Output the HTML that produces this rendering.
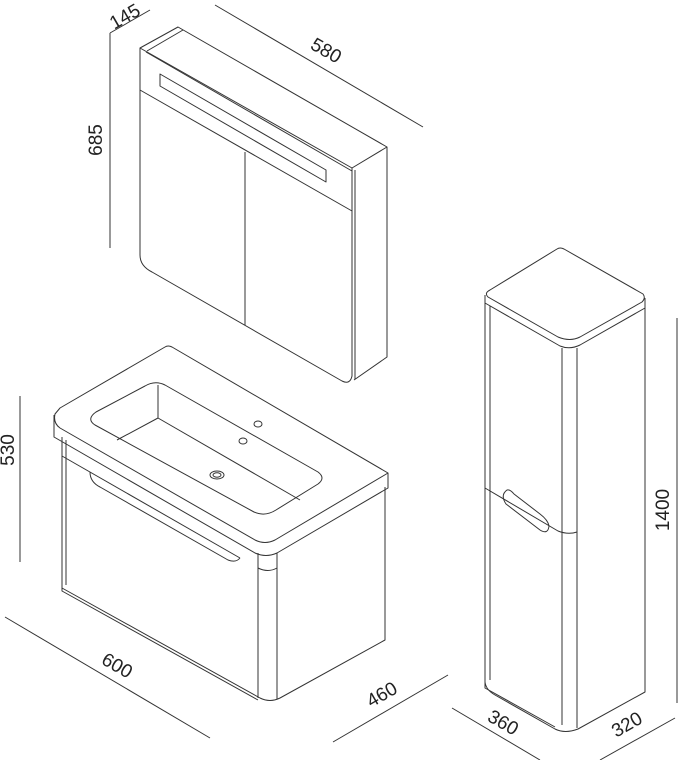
<!DOCTYPE html>
<html><head><style>
html,body{margin:0;padding:0;background:#fff;}
svg{display:block;}
text{font-family:"Liberation Sans",sans-serif;font-size:19px;fill:#222;}
</style></head><body>
<svg width="678" height="760" viewBox="0 0 678 760" xmlns="http://www.w3.org/2000/svg">
<g fill="none" stroke="#333" stroke-width="1" stroke-linejoin="round">
<path d="M140,48 L178,27 L387,147 L352,168 Z"/>
<path d="M147,51 L183,30"/>
<path d="M146,52 L352,171"/>
<path d="M140,48 L140,255 Q140,266 152,272 L342,381 Q350,385 352,376 L352,168"/>
<path d="M355,170 L355,379"/>
<path d="M387,147 L387,357 L354,380"/>
<path d="M160,74 L326,170 L326,182 L160,86 Z"/>
<path d="M140,90 L352,211"/>
<path d="M245,152 L245,325"/>
<path d="M110,33 L150,10"/>
<path d="M110,33 L110,248"/>
<path d="M215,5 L423,127"/>
<path d="M60,408 L165,347 Q168,345 172,347 L388,473 L275,540 Q265,545 255,540 L60,428 Q53,423 55,414 Z"/>
<path d="M54,415 L54,437 L255,553 Q266,558 277,553 L388,488 L388,473"/>
<path d="M145,386 Q155,380 165,385 L318,472 Q326,478 318,484 L276,510 Q265,517 254,512 L95,425 Q86,419 96,412 Z"/>
<path d="M158,385 L158,418 L117,440"/>
<path d="M158,418 L300,500"/>
<ellipse cx="258" cy="424" rx="4" ry="3"/>
<ellipse cx="243" cy="441" rx="4" ry="3"/>
<ellipse cx="217" cy="475" rx="7" ry="4"/>
<ellipse cx="217" cy="475" rx="4" ry="2.2"/>
<path d="M62,437 L62,588 L260,698 Q270,703 280,698 L385,640 L385,487"/>
<path d="M66,440 L66,585"/>
<path d="M62,588 L62,591 L258,700"/>
<path d="M258,553 L258,698"/>
<path d="M277,553 L277,699"/>
<path d="M258,568 Q268,573 277,568"/>
<path d="M62,456 L240,558"/>
<path d="M90,472 Q90,482 100,487 L228,560 Q236,563 240,558"/>
<path d="M20,396 L20,562"/>
<path d="M5,617 L210,738"/>
<path d="M333,742 L448,675"/>
<path d="M490,290 L557,249 Q560,247 564,249 L643,294 Q646,298 642,302 L580,337 Q570,342 558,337 L488,297 Q484,293 490,290 Z"/>
<path d="M485,295 L485,303 L560,346 Q570,350 580,345 L645,308 L645,298"/>
<path d="M485,303 L485,682 Q486,690 495,695 L555,729 Q565,734 578,729 L645,692 L645,308"/>
<path d="M490,306 L490,680"/>
<path d="M485,680 L485,688 L555,727"/>
<path d="M562,348 L562,725"/>
<path d="M577,348 L577,728"/>
<path d="M485,488 L558,531 Q568,535 577,532"/>
<path d="M507,490 Q500,495 506,504 L540,530 Q548,535 549,526 Q548,520 540,514 L514,494 Q510,489 507,490 Z"/>
<path d="M677,318 L677,703"/>
<path d="M452,708 L540,760"/>
<path d="M600,760 L675,718"/>
</g>
<text transform="translate(128,22) rotate(-30)" text-anchor="middle">145</text>
<text transform="translate(102,140) rotate(-90)" text-anchor="middle">685</text>
<text transform="translate(323,56) rotate(30)" text-anchor="middle">580</text>
<text transform="translate(14,450) rotate(-90)" text-anchor="middle">530</text>
<text transform="translate(114,671) rotate(30)" text-anchor="middle">600</text>
<text transform="translate(385,700) rotate(-30)" text-anchor="middle">460</text>
<text transform="translate(669,510) rotate(-90)" text-anchor="middle">1400</text>
<text transform="translate(500,728) rotate(30)" text-anchor="middle">360</text>
<text transform="translate(630,730) rotate(-30)" text-anchor="middle">320</text>
</svg>
</body></html>
